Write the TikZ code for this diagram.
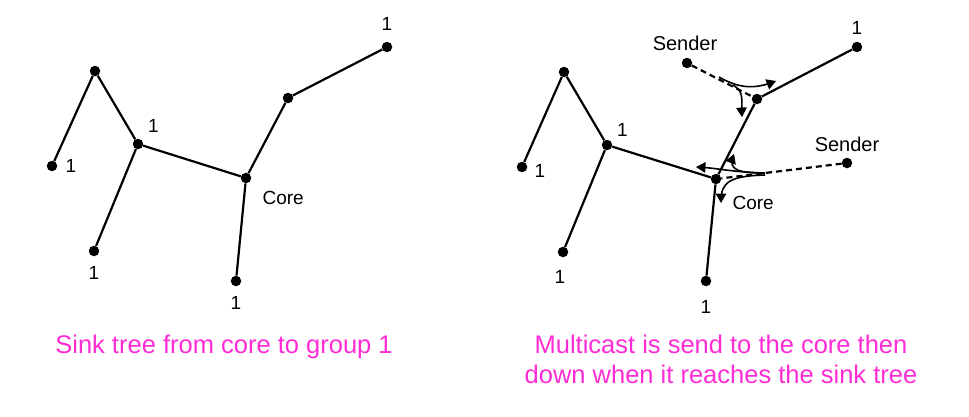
\documentclass[tikz,border=0pt]{standalone}
\usepackage{fontspec}
\setmainfont{Liberation Sans}
\usepackage{tikz}
\usetikzlibrary{arrows}
\usetikzlibrary{positioning}
\definecolor{pinktext}{RGB}{255,43,212}
\tikzset{%
  mydot/.style={circle, fill=black, inner sep=0pt, minimum size=10.5pt},
  myedge/.style={line width=2.2pt},
  mysend/.style={line width=2.2pt, dash pattern=on 6pt off 4pt},
  myflow/.style={->, >=triangle 60, line width=1.6pt},
  mylabel/.style={inner sep=0pt, font=\fontsize{19}{19}\selectfont},
  mycaption/.style={inner sep=0pt, text=pinktext, font=\fontsize{25.5}{30}\selectfont, align=center}
}

\begin{document}
\begin{tikzpicture}[x=1pt, y=-1pt]
  \useasboundingbox (0,0) rectangle (969,416);
  % left: sink tree
  \node[mydot] (lpeak) at (95,71) {};
  \node[mydot] (lleaf) at (52,166) {};
  \node[mydot] (lmid) at (138,144) {};
  \node[mydot] (lbot) at (94,251) {};
  \node[mydot] (lcore) at (246,178) {};
  \node[mydot] (lcbot) at (236,281) {};
  \node[mydot] (lup) at (288,98) {};
  \node[mydot] (ltop) at (387,47) {};
  \node[mylabel, right=8pt of lleaf] {1};
  \node[mylabel, above right=7pt and 6pt of lmid] {1};
  \node[mylabel, below=10pt of lbot] {1};
  \node[mylabel, below=10pt of lcbot] {1};
  \node[mylabel, below right=9pt and 12.5pt of lcore] {Core};
  \node[mylabel, above=11pt of ltop] {1};
  \draw [myedge] (lleaf) -- (lpeak) -- (lmid) -- (lbot);
  \draw [myedge] (lmid) -- (lcore) -- (lcbot);
  \draw [myedge] (lcore) -- (lup) -- (ltop);
  % right: shared tree with senders
  \node[mydot] (rpeak) at (564,72) {};
  \node[mydot] (rleaf) at (522,167) {};
  \node[mydot] (rmid) at (607,145) {};
  \node[mydot] (rbot) at (563,252) {};
  \node[mydot] (rcore) at (716,179) {};
  \node[mydot] (rcbot) at (706,281) {};
  \node[mydot] (rup) at (757,99) {};
  \node[mydot] (rtop) at (857,47) {};
  \node[mydot] (sa) at (687,63) {};
  \node[mydot] (sb) at (847,163) {};
  \node[mylabel, right=7pt of rleaf, yshift=-4pt] {1};
  \node[mylabel, above right=4pt and 6pt of rmid] {1};
  \node[mylabel, below=13pt of rbot, xshift=-3pt] {1};
  \node[mylabel, below=14pt of rcbot] {1};
  \node[mylabel, below right=13.5pt and 12.5pt of rcore] {Core};
  \node[mylabel, above=7pt of rtop] {1};
  \node[mylabel, font=\fontsize{20}{20}\selectfont, above=6.5pt of sa, xshift=-2pt] {Sender};
  \node[mylabel, font=\fontsize{20}{20}\selectfont, above=5.5pt of sb] {Sender};
  \draw [myedge] (rleaf) -- (rpeak) -- (rmid) -- (rbot);
  \draw [myedge] (rmid) -- (rcore) -- (rcbot);
  \draw [myedge] (rcore) -- (rup) -- (rtop);
  \draw [mysend] (sa) -- (rup);
  \draw [mysend] (sb) -- (rcore);
  % flow round the joins
  \coordinate (fa) at (719,77);
  \coordinate (fb) at (733,85);
  \coordinate (fc) at (765,173);
  \coordinate (fd) at (765,175);
  \coordinate (ta) at (776,81);
  \coordinate (tb) at (742,117);
  \coordinate (tc) at (734,154);
  \coordinate (td) at (696,167);
  \coordinate (te) at (721,203);
  \draw [myflow] (fa) .. controls (740,89) and (755,89) .. (ta);
  \draw [myflow] (fb) .. controls (745,92) and (741,100) .. (tb);
  \draw [myflow] (fc) .. controls (738,173) and (728,170) .. (tc);
  \draw [myflow] (fc) .. controls (730,172) and (718,168) .. (td);
  \draw [myflow] (fd) .. controls (730,176) and (721,182) .. (te);
  % captions
  \node[mycaption, anchor=base] (capl) at (224,353) {Sink tree from core to group 1};
  \node[mycaption, anchor=base] (capr) at (721,383) {Multicast is send to the core then\\down when it reaches the sink tree};
\end{tikzpicture}
\end{document}
